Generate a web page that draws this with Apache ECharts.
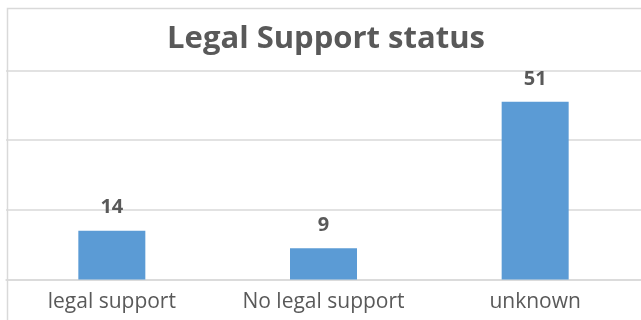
<!DOCTYPE html>
<html>
<head>
<meta charset="utf-8">
<style>
  html, body { margin: 0; padding: 0; background: #ffffff; }
  #chart { width: 641px; height: 320px; }
</style>
<script src="https://cdn.jsdelivr.net/npm/echarts@6/dist/echarts.min.js"></script>
</head>
<body>
<div id="chart"></div>
<script>
// Legal support status counts
const categories = ['legal support', 'No legal support', 'unknown'];
const counts = [14, 9, 51];
const titleText = 'Legal Support status';

const textColor = '#595959';
const lineColor = '#d9d9d9';
const barColor = '#5b9bd5';
const fontFamily = "'Open Sans', 'Liberation Sans', sans-serif";

const chart = echarts.init(document.getElementById('chart'), null, { renderer: 'canvas' });

chart.setOption({
  animation: false,
  backgroundColor: '#ffffff',
  title: {
    text: titleText,
    left: 321,
    top: 19,
    textAlign: 'center',
    textStyle: {
      fontFamily: fontFamily,
      fontWeight: 'bold',
      fontSize: 31,
      color: textColor
    }
  },
  graphic: [{
    type: 'rect',
    shape: { x: 7.5, y: 8.5, width: 700, height: 400 },
    style: { fill: 'none', stroke: lineColor, lineWidth: 1.5 },
    silent: true,
    z: 0
  }],
  grid: {
    left: 6,
    width: 639,
    top: 70.5,
    bottom: 40.5,
    containLabel: false
  },
  xAxis: {
    type: 'category',
    data: categories,
    axisLine: { show: true, lineStyle: { color: lineColor, width: 1.5 } },
    axisTick: { show: false },
    axisLabel: {
      color: textColor,
      fontFamily: fontFamily,
      fontSize: 21,
      margin: 12
    }
  },
  yAxis: {
    type: 'value',
    min: 0,
    max: 60,
    interval: 20,
    axisLine: { show: false },
    axisTick: { show: false },
    axisLabel: { show: false },
    splitLine: { show: true, lineStyle: { color: lineColor, width: 1.5 } }
  },
  series: [{
    type: 'bar',
    data: counts,
    barWidth: 67,
    itemStyle: { color: barColor },
    label: {
      show: true,
      position: 'top',
      distance: 13,
      color: textColor,
      fontFamily: fontFamily,
      fontWeight: 'bold',
      fontSize: 20
    }
  }]
});
</script>
</body>
</html>
